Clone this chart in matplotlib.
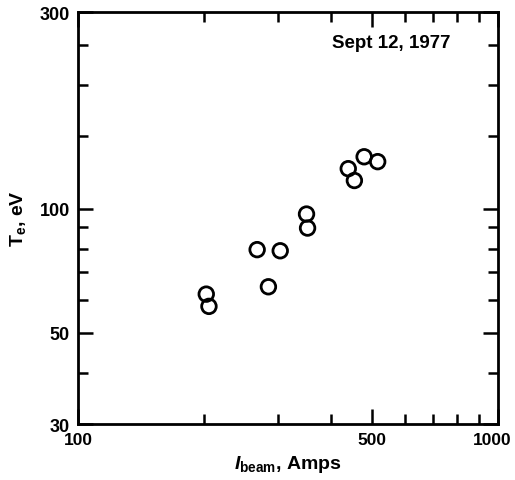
import matplotlib
matplotlib.use('Agg')
import matplotlib.pyplot as plt
import matplotlib.transforms as mtransforms
from matplotlib.ticker import FixedLocator, FixedFormatter, NullFormatter

# beam current (A) vs electron temperature (eV)
beam_amps = [202, 205, 267, 284, 303, 350, 352, 440, 455, 480, 517]
te_ev = [62.0, 57.9, 79.5, 64.6, 79.0, 97.0, 89.7, 125, 117, 133.6, 130]

x_major = [100, 500, 1000]
x_minor = [200, 300, 400, 600, 700, 800, 900]
y_major = [30, 50, 100, 300]
y_minor = [40, 60, 70, 80, 90, 150, 200, 250]

plt.rcParams['font.family'] = ['Liberation Sans', 'DejaVu Sans']
plt.rcParams['font.weight'] = 'bold'
plt.rcParams['mathtext.fontset'] = 'custom'
plt.rcParams['mathtext.rm'] = 'Liberation Sans:bold'
plt.rcParams['mathtext.it'] = 'Liberation Sans:bold:italic'
plt.rcParams['mathtext.bf'] = 'Liberation Sans:bold'
plt.rcParams['mathtext.default'] = 'rm'

fig = plt.figure(figsize=(5.15, 4.81), dpi=100)
ax = fig.add_axes([0.1515, 0.1164, 0.8155, 0.8565])

ax.scatter(beam_amps, te_ev, s=110, facecolors='none', edgecolors='black', linewidths=2.0, zorder=3)

ax.set_xscale('log')
ax.set_yscale('log')
ax.set_xlim(100, 1000)
ax.set_ylim(30, 300)

ax.xaxis.set_major_locator(FixedLocator(x_major))
ax.xaxis.set_major_formatter(FixedFormatter([str(v) for v in x_major]))
ax.xaxis.set_minor_locator(FixedLocator(x_minor))
ax.xaxis.set_minor_formatter(NullFormatter())
ax.yaxis.set_major_locator(FixedLocator(y_major))
ax.yaxis.set_major_formatter(FixedFormatter([str(v) for v in y_major]))
ax.yaxis.set_minor_locator(FixedLocator(y_minor))
ax.yaxis.set_minor_formatter(NullFormatter())

ax.tick_params(which='both', direction='in', top=True, right=True, width=1.8, colors='black')
ax.tick_params(which='major', length=11, labelsize=13, pad=6)
ax.tick_params(axis='x', which='major', labelsize=12.5)
ax.tick_params(which='minor', length=7)
for lbl in ax.get_xticklabels() + ax.get_yticklabels():
    lbl.set_fontweight('bold')

# the "1000" label sits a little inside the right edge in the original
last = ax.xaxis.get_major_ticks()[-1].label1
last.set_transform(last.get_transform() + mtransforms.ScaledTranslation(-6 / 100, 0, fig.dpi_scale_trans))

for sp in ax.spines.values():
    sp.set_linewidth(2.0)

ax.set_xlabel(r'$\mathit{I}_{\mathrm{beam}}$, Amps', fontsize=14, fontweight='bold', labelpad=4)
ax.set_ylabel(r'T$_{\mathrm{e}}$, eV', fontsize=14, fontweight='bold', labelpad=8)

ax.text(0.605, 0.925, 'Sept 12, 1977', transform=ax.transAxes, fontsize=13.5, fontweight='bold', va='center', ha='left')

fig.savefig('out.png', dpi=100)
